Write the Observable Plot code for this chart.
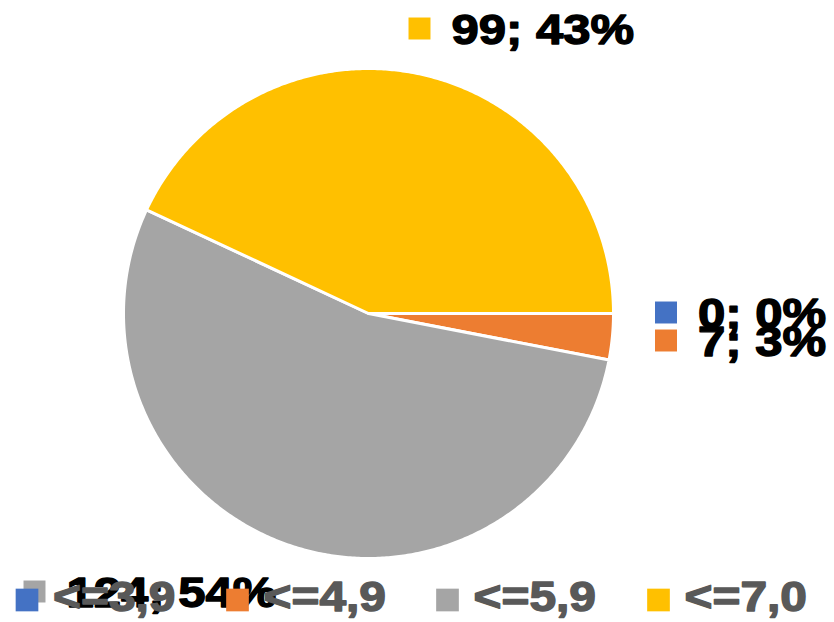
<!DOCTYPE html>
<html>
<head>
<meta charset="utf-8">
<script src="https://cdn.jsdelivr.net/npm/d3@7"></script>
<script src="https://cdn.jsdelivr.net/npm/@observablehq/plot@0.6"></script>
<style>
  html, body { margin: 0; padding: 0; background: #fff; }
  #chart { width: 834px; height: 622px; }
</style>
</head>
<body>
<div id="chart"></div>
<script>
// ---- data ----
const categories = ["<=3,9", "<=4,9", "<=5,9", "<=7,0"];
const counts = [0, 7, 124, 99];
const colors = ["#4472C4", "#ED7D31", "#A5A5A5", "#FFC000"];

// ---- layout (pixels) ----
const W = 834, H = 622;
const cx = 368, cy = 313, R = 245;
// data label square centres (Excel placement)
const labelSquareX = [665.5, 665.5, 34, 419];
const labelSquareY = [312, 340, 591, 28];
// legend square centres
const legendSquareX = [26.5, 237, 447, 658];
const legendSquareY = 599.5;

const total = d3.sum(counts);

// slices as closed polygons (start at 3 o'clock, clockwise)
const slicePoints = [];
let acc = 0;
categories.forEach((cat, i) => {
  const a0 = acc / total * 2 * Math.PI;
  acc += counts[i];
  const a1 = acc / total * 2 * Math.PI;
  slicePoints.push({cat, x: cx, y: cy});
  const n = Math.max(1, Math.ceil((a1 - a0) / (Math.PI / 360)));
  for (let k = 0; k <= n; k++) {
    const a = a0 + (a1 - a0) * k / n;
    slicePoints.push({cat, x: cx + R * Math.cos(a), y: cy + R * Math.sin(a)});
  }
  slicePoints.push({cat, x: cx, y: cy});
});

const labels = categories.map((cat, i) => ({
  cat,
  text: `${counts[i]}; ${Math.round(counts[i] / total * 100)}%`,
  sx: labelSquareX[i], sy: labelSquareY[i]
}));
const legend = categories.map((cat, i) => ({cat, sx: legendSquareX[i], sy: legendSquareY}));

const color = {domain: categories, range: colors};
const font = "Liberation Sans, Arial, sans-serif";

const plot = Plot.plot({
  width: W, height: H,
  margin: 0,
  x: {type: "linear", domain: [0, W], range: [0, W], axis: null},
  y: {type: "linear", domain: [0, H], range: [0, H], axis: null},
  color,
  style: {fontFamily: font, background: "#fff"},
  marks: [
    Plot.line(slicePoints, {x: "x", y: "y", z: "cat", fill: "cat", stroke: "#fff", strokeWidth: 3, strokeLinejoin: "round", curve: "linear"}),
    // data labels
    Plot.dot(labels, {x: "sx", y: "sy", fill: "cat", symbol: "square", r: 12.4, stroke: null}),
    Plot.text(labels, {x: "sx", y: "sy", dx: 32, dy: 2, text: "text", textAnchor: "start", lineAnchor: "middle",
      fontSize: 43, fontWeight: "bold", fill: "#000", stroke: "#000", strokeWidth: 1.4, fontFamily: font}),
    // legend
    Plot.dot(legend, {x: "sx", y: "sy", fill: "cat", symbol: "square", r: 12.8, stroke: null}),
    Plot.text(legend, {x: "sx", y: "sy", dx: 26, dy: -2, text: "cat", textAnchor: "start", lineAnchor: "middle",
      fontSize: 42, fontWeight: "bold", fill: "#595959", stroke: "#595959", strokeWidth: 1.4, fontFamily: font})
  ]
});
document.getElementById("chart").appendChild(plot);

// widen glyphs like the reference rendering
d3.select(plot).selectAll("text").each(function() {
  const len = this.getComputedTextLength();
  if (len > 0) {
    this.setAttribute("textLength", (len * 1.14).toFixed(1));
    this.setAttribute("lengthAdjust", "spacingAndGlyphs");
  }
});
</script>
</body>
</html>
